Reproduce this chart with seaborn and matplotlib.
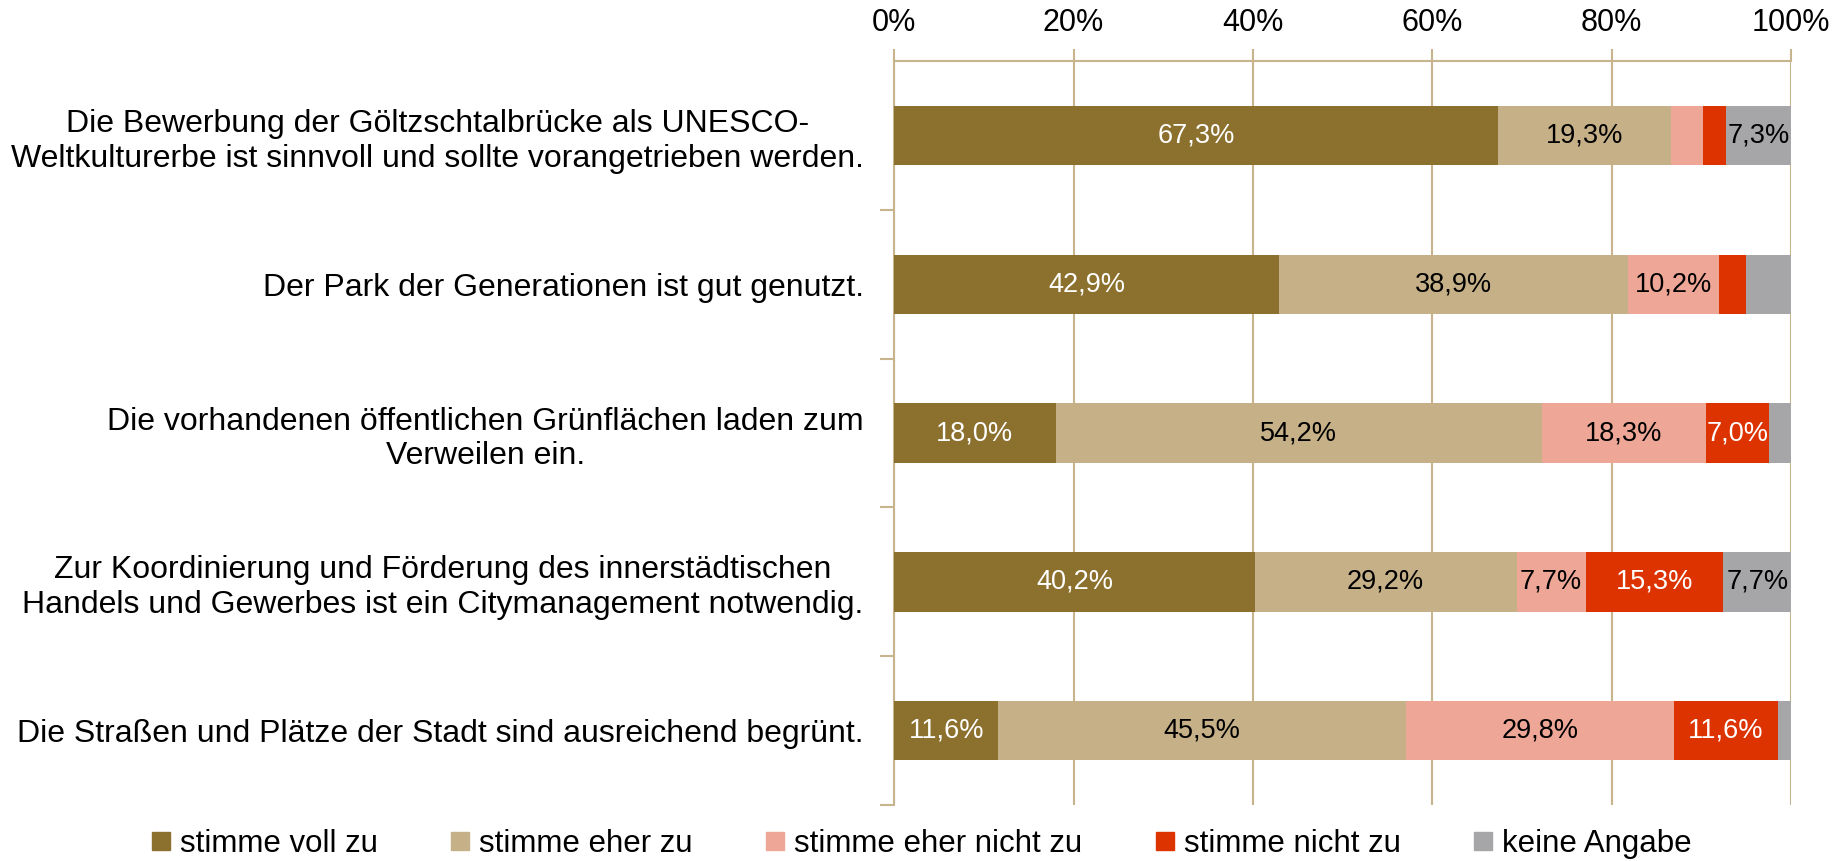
import numpy as np
import pandas as pd
import seaborn as sns
import matplotlib.pyplot as plt
from matplotlib.lines import Line2D

statements = [
    "Die Bewerbung der Göltzschtalbrücke als UNESCO-\nWeltkulturerbe ist sinnvoll und sollte vorangetrieben werden.",
    "Der Park der Generationen ist gut genutzt.",
    "Die vorhandenen öffentlichen Grünflächen laden zum\nVerweilen ein.",
    "Zur Koordinierung und Förderung des innerstädtischen\nHandels und Gewerbes ist ein Citymanagement notwendig.",
    "Die Straßen und Plätze der Stadt sind ausreichend begrünt.",
]
answers = ["stimme voll zu", "stimme eher zu", "stimme eher nicht zu", "stimme nicht zu", "keine Angabe"]

voll_zu = [67.3, 42.9, 18.0, 40.2, 11.6]
eher_zu = [19.3, 38.9, 54.2, 29.2, 45.5]
eher_nicht = [3.6, 10.2, 18.3, 7.7, 29.8]
nicht_zu = [2.5, 3.0, 7.0, 15.3, 11.6]
keine = [7.3, 5.0, 2.5, 7.7, 1.5]

colors = ["#8C702E", "#C6B088", "#EEA697", "#DD3300", "#A6A6A8"]
text_colors = ["white", "black", "black", "white", "black"]

sns.set_style("white")
plt.rcParams['font.family'] = ['Liberation Sans', 'DejaVu Sans']
plt.rcParams['text.color'] = 'black'

series = [voll_zu, eher_zu, eher_nicht, nicht_zu, keine]
cum = np.cumsum(np.array(series), axis=0)

fig = plt.figure(figsize=(18.36, 8.61), dpi=100)
ax = fig.add_axes([0.487, 0.065, 0.4885, 0.864])
grid_c = "#C8B48C"

# stacked via overlay of cumulative sums, drawn from the largest down
for i in range(len(answers) - 1, -1, -1):
    df = pd.DataFrame({"statement": statements, "value": cum[i]})
    sns.barplot(data=df, x="value", y="statement", orient="h", color=colors[i],
                width=0.4, ax=ax, saturation=1, linewidth=0, zorder=3)

for i, vals in enumerate(series):
    for j, v in enumerate(vals):
        if v >= 6:
            ax.text(cum[i][j] - v / 2, j, f"{v:.1f}%".replace(".", ","),
                    ha="center", va="center", fontsize=19.5, color=text_colors[i], zorder=4)

ax.set_xlim(0, 100)
ax.set_ylim(4.5, -0.5)
ax.set_xticks(range(0, 101, 20))
ax.set_xticklabels([f"{t}%" for t in range(0, 101, 20)])
ax.xaxis.tick_top()
ax.tick_params(axis="x", which="major", direction="out", length=9, color=grid_c,
               width=1.5, labelsize=22, pad=8, labelcolor="black")
ax.grid(axis="x", color=grid_c, linewidth=1.5, zorder=0)
ax.set_axisbelow(True)
ax.set_xlabel("")
ax.set_ylabel("")

ax.set_yticks(range(len(statements)))
ax.set_yticklabels(statements)
ax.set_yticks(np.arange(0.5, 5, 1), minor=True)
ax.tick_params(axis="y", which="major", length=0, labelsize=23, pad=22, labelcolor="black")
ax.tick_params(axis="y", which="minor", length=10, color=grid_c, width=1.5, direction="out", left=True)
for t in ax.get_yticklabels():
    t.set_multialignment("center")

for s in ["right", "bottom"]:
    ax.spines[s].set_visible(False)
for s in ["top", "left"]:
    ax.spines[s].set_color(grid_c)
    ax.spines[s].set_linewidth(1.5)

handles = [Line2D([], [], marker="s", linestyle="", markersize=13, color=c) for c in colors]
fig.legend(handles, answers, loc="lower center", bbox_to_anchor=(0.502, -0.03), ncol=5,
           frameon=False, fontsize=22.5, handlelength=0.6, handletextpad=0.3, columnspacing=2.35)

fig.savefig("out.png", dpi=100)
